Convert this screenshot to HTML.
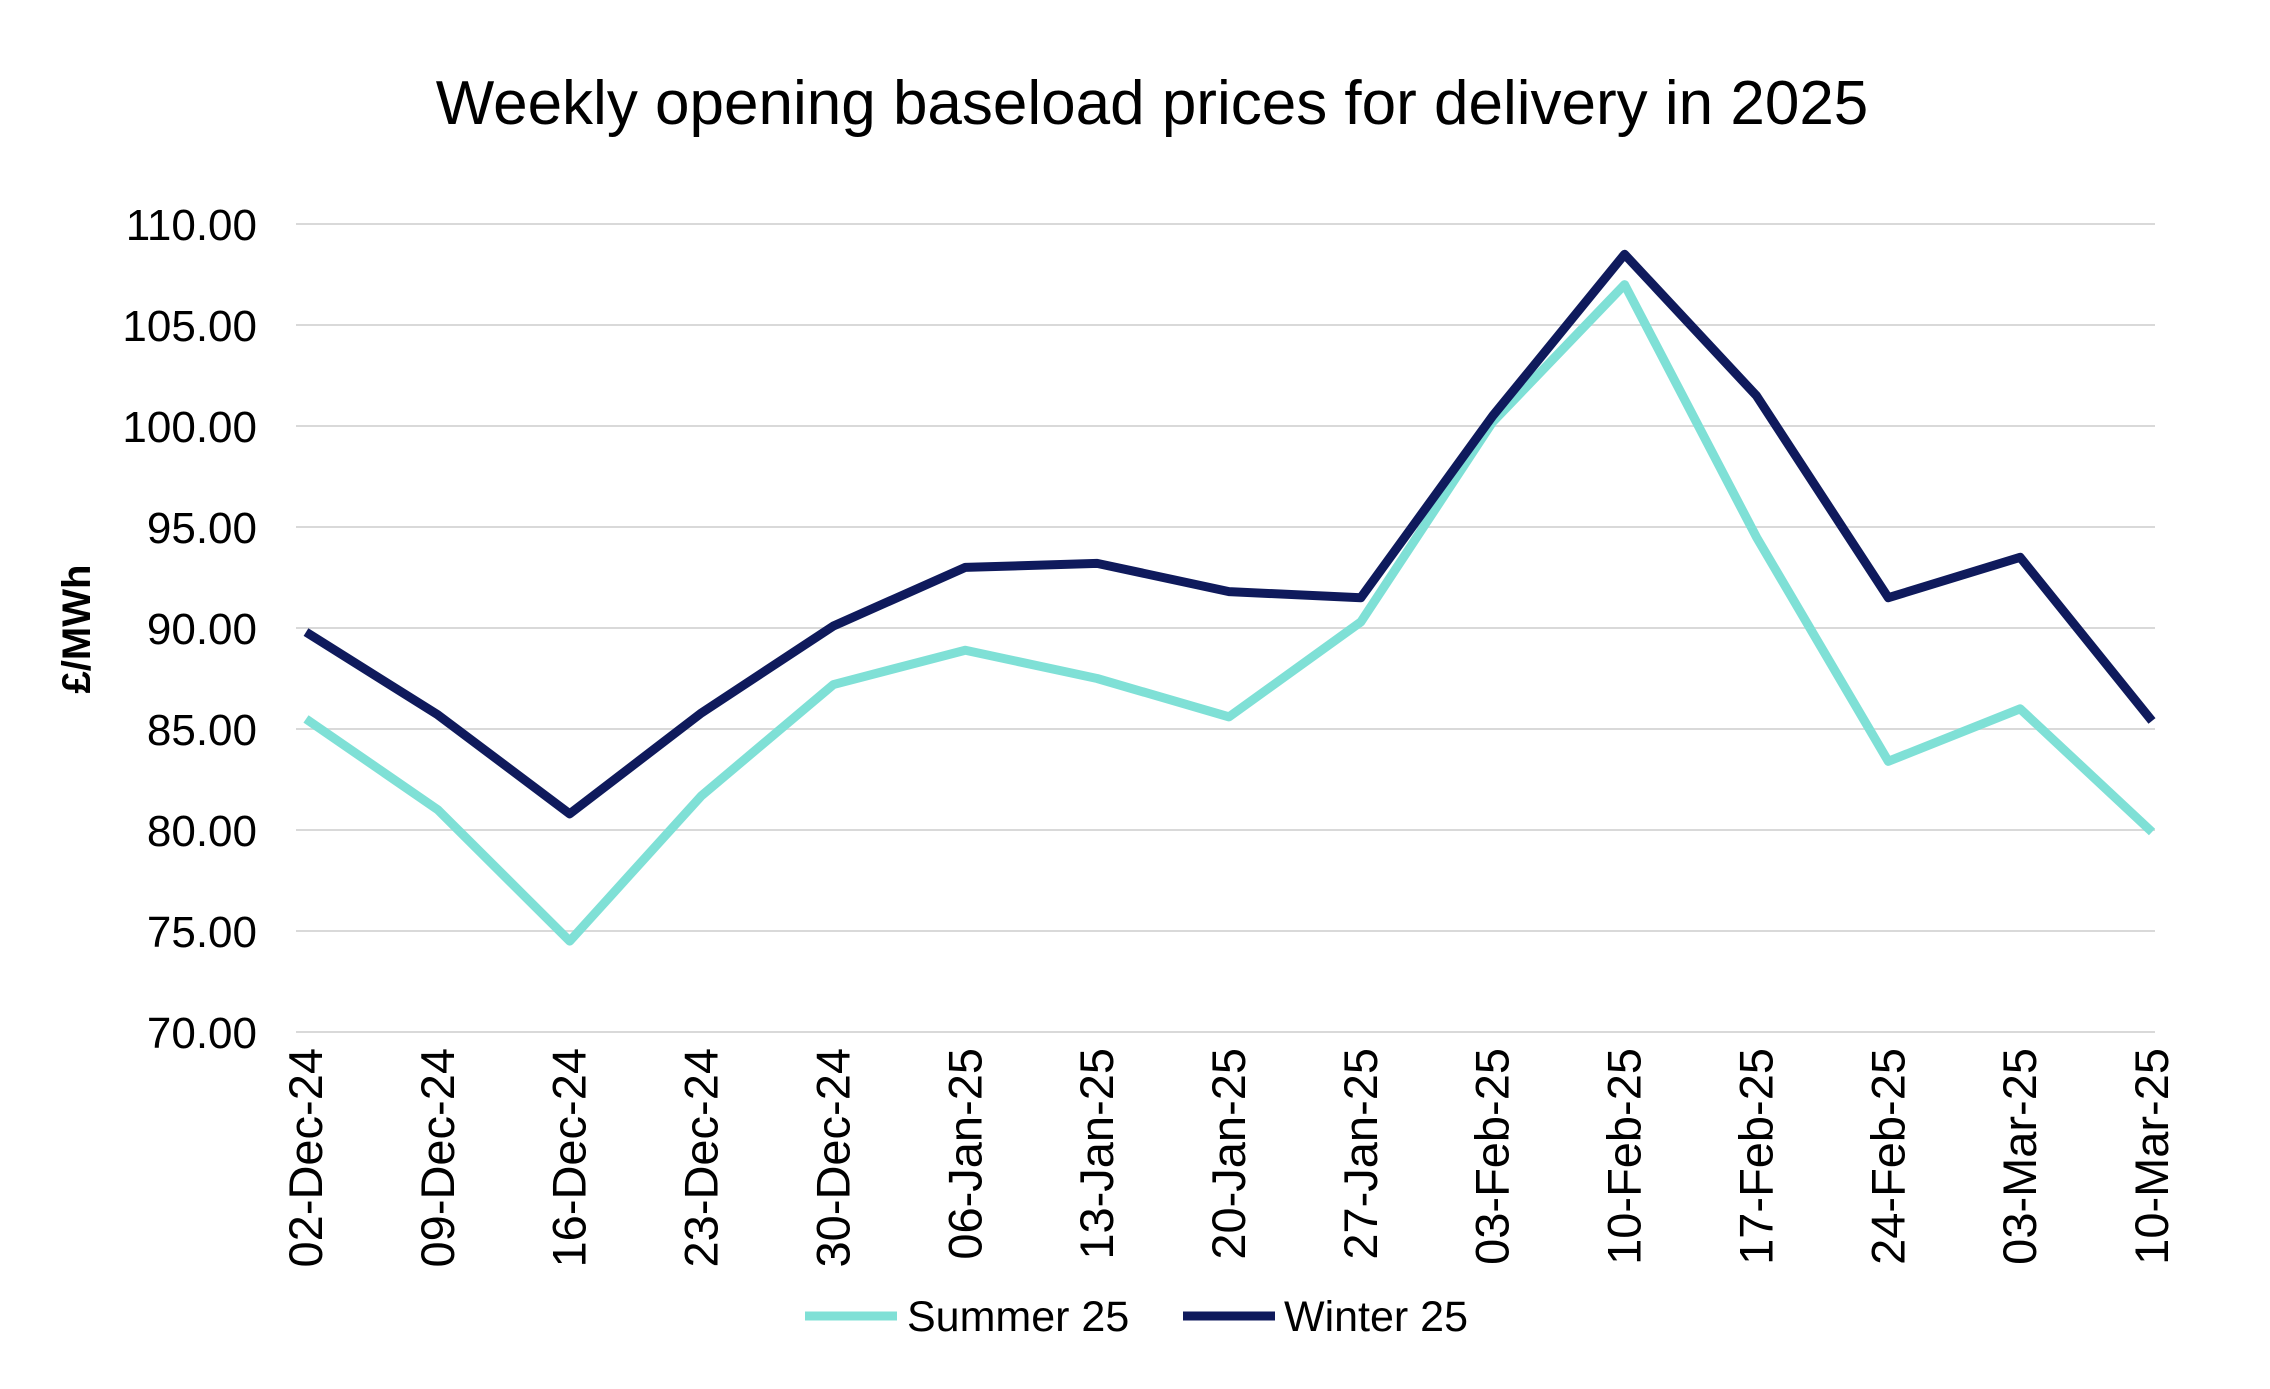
<!DOCTYPE html>
<html><head><meta charset="utf-8"><style>
html,body{margin:0;padding:0;background:#fff;}
svg{display:block;font-family:"Liberation Sans",sans-serif;}
</style></head><body>
<svg id="chart" width="2270" height="1389" viewBox="0 0 2270 1389" xmlns="http://www.w3.org/2000/svg">
<text x="1152" y="124" font-size="62" text-anchor="middle" fill="#000">Weekly opening baseload prices for delivery in 2025</text>
<text transform="translate(90,629) rotate(-90)" font-size="40" font-weight="bold" text-anchor="middle" fill="#000">£/MWh</text>
<g id="grid"></g><g id="yticks"></g><g id="xticks"></g><g id="series"></g>
<g>
<line x1="805" y1="1316" x2="897" y2="1316" stroke="#7fe0d6" stroke-width="9"/>
<text x="907" y="1331" font-size="43" fill="#000">Summer 25</text>
<line x1="1183" y1="1316" x2="1275" y2="1316" stroke="#0f1a5c" stroke-width="9"/>
<text x="1284" y="1331" font-size="43" fill="#000">Winter 25</text>
</g>
</svg>
<script>
const categories=["02-Dec-24","09-Dec-24","16-Dec-24","23-Dec-24","30-Dec-24","06-Jan-25","13-Jan-25","20-Jan-25","27-Jan-25","03-Feb-25","10-Feb-25","17-Feb-25","24-Feb-25","03-Mar-25","10-Mar-25"];
const summer=[85.5,81.0,74.5,81.7,87.2,88.9,87.5,85.6,90.3,100.2,107.0,94.5,83.4,86.0,79.9];
const winter=[89.8,85.7,80.8,85.8,90.1,93.0,93.2,91.8,91.5,100.5,108.5,101.5,91.5,93.5,85.4];
const yTicks=[70,75,80,85,90,95,100,105,110];
const NS="http://www.w3.org/2000/svg";
const x0=306,x1=2152,yTop=224,yBot=1032,yMin=70,yMax=110;
function xs(i){return x0+(x1-x0)*i/(categories.length-1);}
function ys(v){return yBot-(v-yMin)/(yMax-yMin)*(yBot-yTop);}
function mk(t,a,p){const e=document.createElementNS(NS,t);for(const k in a)e.setAttribute(k,a[k]);p.appendChild(e);return e;}
const grid=document.getElementById('grid'),yt=document.getElementById('yticks'),xt=document.getElementById('xticks'),ser=document.getElementById('series');
yTicks.forEach(v=>{
 const l=mk('line',{x1:x0-10,x2:x1+3,y1:ys(v),y2:ys(v),stroke:'#d9d9d9','stroke-width':2},grid);
 
 
 const t=mk('text',{x:257,y:ys(v)+16,'font-size':44,'text-anchor':'end',fill:'#000'},yt);
 t.textContent=v.toFixed(2);
 
 
});
categories.forEach((c,i)=>{
 const t=mk('text',{transform:`translate(${xs(i)+16},1048) rotate(-90)`,'font-size':47,'text-anchor':'end',fill:'#000'},xt);
 t.textContent=c;
 
 
});
[[summer,'#7fe0d6','summer-25-line'],[winter,'#0f1a5c','winter-25-line']].forEach(([d,col,n])=>{
 const p=mk('polyline',{points:d.map((v,i)=>xs(i)+','+ys(v)).join(' '),fill:'none',stroke:col,'stroke-width':9,'stroke-linejoin':'round'},ser);
 
 
});
</script>
</body></html>
